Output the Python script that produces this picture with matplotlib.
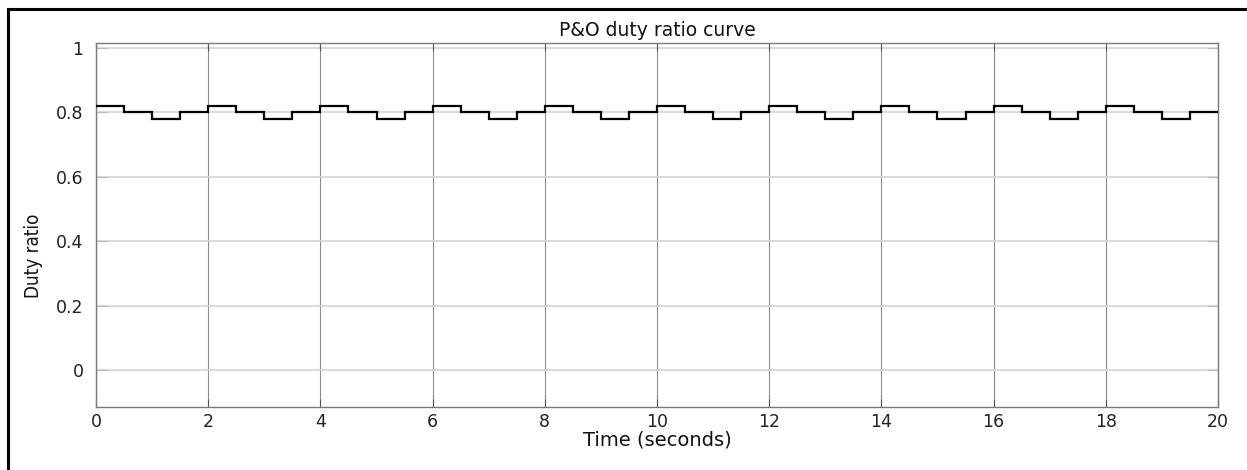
import matplotlib.pyplot as plt
from matplotlib.lines import Line2D

# P&O duty ratio curve (step output, 0.5 s per step)
edges = [0.0, 0.5, 1.0, 1.5, 2.0, 2.5, 3.0, 3.5, 4.0, 4.5,
         5.0, 5.5, 6.0, 6.5, 7.0, 7.5, 8.0, 8.5, 9.0, 9.5,
         10.0, 10.5, 11.0, 11.5, 12.0, 12.5, 13.0, 13.5, 14.0, 14.5,
         15.0, 15.5, 16.0, 16.5, 17.0, 17.5, 18.0, 18.5, 19.0, 19.5, 20.0]
duty = [0.82, 0.80, 0.78, 0.80, 0.82, 0.80, 0.78, 0.80,
        0.82, 0.80, 0.78, 0.80, 0.82, 0.80, 0.78, 0.80,
        0.82, 0.80, 0.78, 0.80, 0.82, 0.80, 0.78, 0.80,
        0.82, 0.80, 0.78, 0.80, 0.82, 0.80, 0.78, 0.80,
        0.82, 0.80, 0.78, 0.80, 0.82, 0.80, 0.78, 0.80]
xticks = [0, 2, 4, 6, 8, 10, 12, 14, 16, 18, 20]
yticks = [0, 0.2, 0.4, 0.6, 0.8, 1]
ylabels = ['0', '0.2', '0.4', '0.6', '0.8', '1']

plt.rcParams['font.family'] = ['DejaVu Sans']

fig = plt.figure(figsize=(12.47, 4.70), dpi=100)
ax = fig.add_axes([0.077, 0.134, 0.8997, 0.774])

# grid: vertical darker, horizontal lighter
for x in xticks:
    ax.axvline(x, color='#8c8c8c', lw=0.8, zorder=0)
for y in yticks:
    ax.axhline(y, color='#d4d4d4', lw=1.2, zorder=0)

ax.stairs(duty, edges, color='black', lw=1.6, baseline=None, zorder=3)

ax.set_xlim(0, 20)
ax.set_ylim(-0.114, 1.0135)
ax.set_xticks(xticks)
ax.set_xticklabels([str(v) for v in xticks])
ax.set_yticks(yticks)
ax.set_yticklabels(ylabels)

ax.tick_params(axis='both', direction='in', labelsize=12.5, colors='#555555',
               labelcolor='#222222', top=True, right=True)
ax.tick_params(axis='x', length=6, pad=4)
ax.tick_params(axis='y', length=8, pad=9, colors='#bbbbbb', labelcolor='#222222')
for s in ax.spines.values():
    s.set_color('#7a7a7a')
    s.set_linewidth(1.0)

ax.set_title('P&O duty ratio curve', fontsize=13.5, pad=5, color='#111111')
ax.set_xlabel('Time (seconds)', fontsize=14, labelpad=0, color='#111111')
ax.set_ylabel('Duty ratio', fontsize=13.5, fontstretch='condensed', color='#111111')
ax.yaxis.set_label_coords(-0.047, 0.415)

# black frame round the figure (top and left visible)
fig.add_artist(Line2D([0.0065, 1.0], [0.9805, 0.9805], color='black', lw=2.2,
                      transform=fig.transFigure))
fig.add_artist(Line2D([0.0065, 0.0065], [0.0, 0.9805], color='black', lw=2.2,
                      transform=fig.transFigure))

fig.savefig('out.png', dpi=100)
